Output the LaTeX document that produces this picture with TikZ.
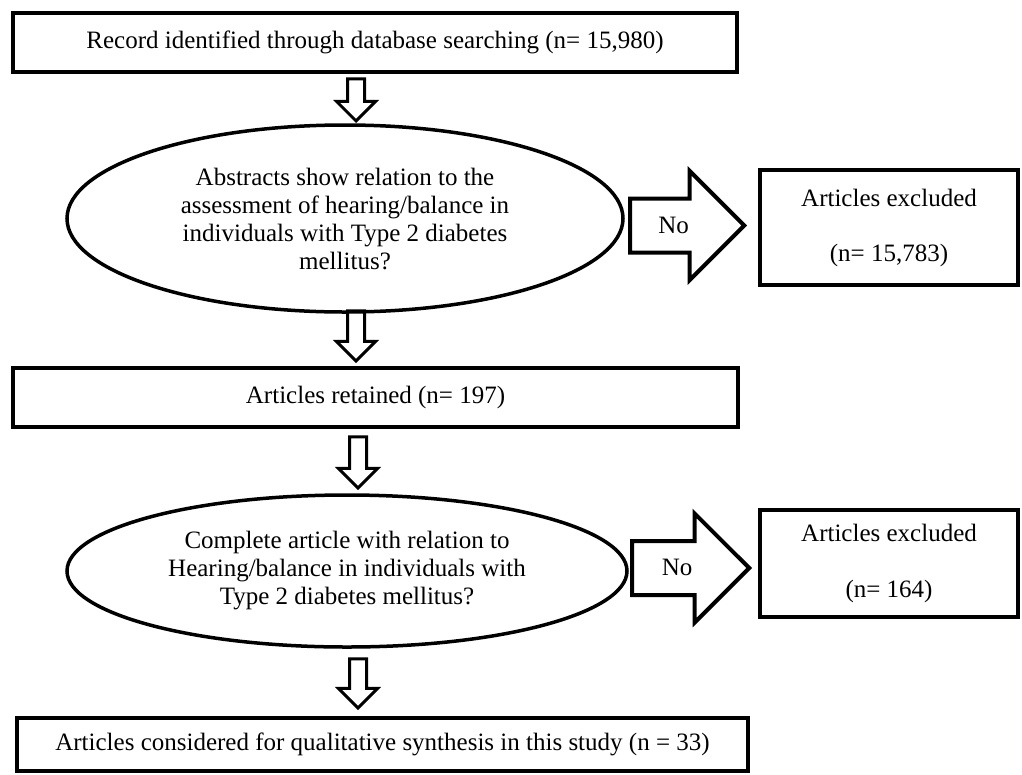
\documentclass[tikz,border=0pt]{standalone}
\usepackage{fontspec}
\setmainfont{Liberation Serif}
\usetikzlibrary{shapes.geometric,shapes.arrows}
\begin{document}
\begin{tikzpicture}[x=1pt,y=-1pt,font=\fontsize{25}{28}\selectfont,
    box/.style={draw,line width=4pt,align=center,inner sep=0pt},
    oval/.style={draw,ellipse,line width=3.5pt,align=center,inner sep=0pt},
    downarrow/.style={draw,single arrow,shape border rotate=270,line width=3pt,inner sep=7pt,minimum width=0pt,single arrow head extend=11pt,single arrow tip angle=90,anchor=tip},
    noarrow/.style={draw,single arrow,line width=4pt,text height=15pt,text depth=0pt,inner ysep=17.5pt,inner xsep=0pt,minimum width=0pt,single arrow head extend=27.5pt,single arrow tip angle=90,anchor=tip}]
  \useasboundingbox (0,0) rectangle (1022,774);
  \node[box,minimum width=724pt,minimum height=59pt] (record) at (375,42.5) {Record identified through database searching (n= 15,980)};
  \node[oval,minimum width=556pt,minimum height=187pt] (abstracts) at (345,218.5) {Abstracts show relation to the\\assessment of hearing/balance in\\individuals with Type 2 diabetes\\mellitus?};
  \node[box,minimum width=258pt,minimum height=115pt] (excl1) at (889,227.5) {Articles excluded\\[27pt](n= 15,783)};
  \node[box,minimum width=725pt,minimum height=59pt] (retained) at (375.5,397.5) {Articles retained (n= 197)};
  \node[oval,minimum width=560pt,minimum height=152pt] (complete) at (347,571) {Complete article with relation to\\Hearing/balance in individuals with\\Type 2 diabetes mellitus?};
  \node[box,minimum width=258pt,minimum height=107pt] (excl2) at (889,563.5) {Articles excluded\\[28pt](n= 164)};
  \node[box,minimum width=731pt,minimum height=53pt] (synthesis) at (382.5,744.5) {Articles considered for qualitative synthesis in this study (n = 33)};
  % hollow arrows
  \foreach \n/\x/\t/\l in {1/356/123/42,2/356/363/50,3/358/490/51,4/358/710/49}
    \node[downarrow,minimum height=\l pt] (down\n) at (\x,\t) {};
  \node[noarrow,minimum height=114pt] (no1) at (747,225.5) {No};
  \node[noarrow,minimum height=117pt] (no2) at (752,568) {No};
\end{tikzpicture}
\end{document}
